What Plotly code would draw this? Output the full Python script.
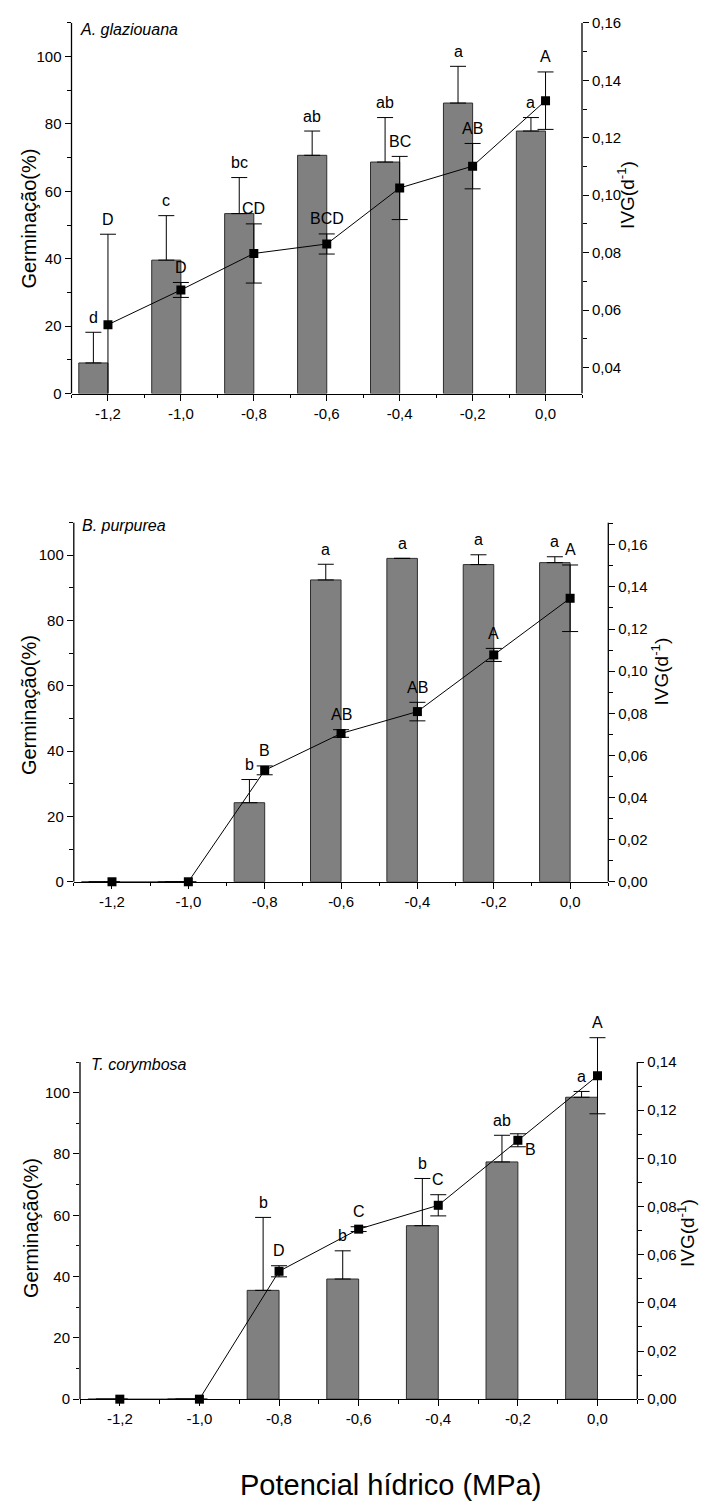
import plotly.graph_objects as go

W, H = 701, 1510

# ---------------- data ----------------
potencial = [-1.2, -1.0, -0.8, -0.6, -0.4, -0.2, 0.0]
x_tickvals = [-1.2, -1.0, -0.8, -0.6, -0.4, -0.2, 0.0]
x_ticklabels = ["-1,2", "-1,0", "-0,8", "-0,6", "-0,4", "-0,2", "0,0"]
germ_tickvals = [0, 20, 40, 60, 80, 100]
germ_ticklabels = ["0", "20", "40", "60", "80", "100"]

# A. glaziouana
germ_a = [9.1, 39.6, 53.4, 70.7, 68.7, 86.2, 77.9]
germ_a_err = [9.1, 13.2, 10.7, 7.2, 13.2, 10.9, 4.0]
ivg_a = [0.0549, 0.0670, 0.0797, 0.0830, 0.1025, 0.1101, 0.1329]
ivg_a_err = [0.0315, 0.0026, 0.0103, 0.0035, 0.0110, 0.0079, 0.0100]
low_a = ["d", "c", "bc", "ab", "ab", "a", "a"]
up_a = ["D", "D", "CD", "BCD", "BC", "AB", "A"]
ivg_a_tickvals = [0.04, 0.06, 0.08, 0.10, 0.12, 0.14, 0.16]
ivg_a_ticklabels = ["0,04", "0,06", "0,08", "0,10", "0,12", "0,14", "0,16"]

# B. purpurea
germ_b = [0, 0, 24.2, 92.4, 99.0, 97.1, 97.7]
germ_b_err = [0, 0, 7.1, 4.8, 0, 3.0, 1.8]
ivg_b = [0, 0, 0.0529, 0.0704, 0.0808, 0.1077, 0.1346]
ivg_b_err = [0, 0, 0.0021, 0.0018, 0.0044, 0.0031, 0.0158]
low_b = ["", "", "b", "a", "a", "a", "a"]
up_b = ["", "", "B", "AB", "AB", "A", "A"]
ivg_b_tickvals = [0.00, 0.02, 0.04, 0.06, 0.08, 0.10, 0.12, 0.14, 0.16]
ivg_b_ticklabels = ["0,00", "0,02", "0,04", "0,06", "0,08", "0,10", "0,12", "0,14", "0,16"]

# T. corymbosa
germ_c = [0, 0, 35.5, 39.2, 56.6, 77.4, 98.5]
germ_c_err = [0, 0, 23.8, 9.2, 15.4, 8.7, 1.9]
ivg_c = [0, 0, 0.0531, 0.0706, 0.0805, 0.1075, 0.1343]
ivg_c_err = [0, 0, 0.0023, 0.0010, 0.0044, 0.0027, 0.0158]
low_c = ["", "", "b", "b", "b", "ab", "a"]
up_c = ["", "", "D", "C", "C", "B", "A"]
ivg_c_tickvals = [0.00, 0.02, 0.04, 0.06, 0.08, 0.10, 0.12, 0.14]
ivg_c_ticklabels = ["0,00", "0,02", "0,04", "0,06", "0,08", "0,10", "0,12", "0,14"]

species = ["A. glaziouana", "B. purpurea", "T. corymbosa"]

# ---------------- layout geometry (pixels) ----------------
# box = (left, right, top of drawn axes, bottom); ext_top = top of plotting area
panels = [
    dict(name=species[0], germ=germ_a, gerr=germ_a_err, ivg=ivg_a, ierr=ivg_a_err,
         low=low_a, up=up_a, rtv=ivg_a_tickvals, rtt=ivg_a_ticklabels,
         box=(71.5, 582, 14, 389), ext_top=14, yl=[0, 110], yr=[0.0309, 0.16],
         rminor=[0.05, 0.07, 0.09, 0.11, 0.13, 0.15], clip=True,
         title_xy=(78, 21), ltitle=(29, 212), rtitle=(626, 188)),
    dict(name=species[1], germ=germ_b, gerr=germ_b_err, ivg=ivg_b, ierr=ivg_b_err,
         low=low_b, up=up_b, rtv=ivg_b_tickvals, rtt=ivg_b_ticklabels,
         box=(73.8, 608.3, 519.3, 882.7), ext_top=519.3, yl=[0, 110], yr=[0, 0.1706],
         rminor=[0.01, 0.03, 0.05, 0.07, 0.09, 0.11, 0.13, 0.15, 0.17], clip=False,
         title_xy=(79.5, 522), ltitle=(29, 704), rtitle=(660, 670)),
    dict(name=species[2], germ=germ_c, gerr=germ_c_err, ivg=ivg_c, ierr=ivg_c_err,
         low=low_c, up=up_c, rtv=ivg_c_tickvals, rtt=ivg_c_ticklabels,
         box=(80, 637.3, 1065, 1406), ext_top=1018, yl=[0, 110], yr=[0, 0.14],
         rminor=[0.01, 0.03, 0.05, 0.07, 0.09, 0.11, 0.13], clip=False,
         title_xy=(89, 1068), ltitle=(31, 1233), rtitle=(686, 1238)),
]
# label placement exceptions: (panel, index) -> (xshift, yshift) relative to point
up_special = {(2, 5): (13, -9)}


def px(x):
    return x / W


def py(y):
    return 1 - y / H


FONT = "Liberation Sans, Arial, sans-serif"
tickfont = dict(family=FONT, size=15, color="black")
labfont = dict(family=FONT, size=16, color="black")
AXW = 1.3

fig = go.Figure()
layout = dict(
    width=W, height=H, margin=dict(l=0, r=0, t=0, b=0),
    paper_bgcolor="white", plot_bgcolor="white", showlegend=False,
    barmode="overlay",
)
annotations = []
shapes = []

axis_common = dict(showgrid=False, zeroline=False, ticks="outside", ticklen=6,
                   tickwidth=1.2, tickcolor="black", tickfont=tickfont,
                   tickmode="array")
minor_common = dict(tickmode="array", ticks="outside", ticklen=3.5, tickwidth=1.2,
                    tickcolor="black")

for i, p in enumerate(panels):
    xa = "x" if i == 0 else f"x{i + 1}"
    yl = "y" if i == 0 else f"y{2 * i + 1}"
    yr = f"y{2 * i + 2}"
    xkey = "xaxis" if i == 0 else f"xaxis{i + 1}"
    ylkey = "yaxis" if i == 0 else f"yaxis{2 * i + 1}"
    yrkey = f"yaxis{2 * i + 2}"
    l, r, t, b = p["box"]
    et = p["ext_top"]
    frac = (b - et) / (b - t)
    yl_rng = [p["yl"][0], p["yl"][0] + (p["yl"][1] - p["yl"][0]) * frac]
    yr_rng = [p["yr"][0], p["yr"][0] + (p["yr"][1] - p["yr"][0]) * frac]

    layout[xkey] = dict(axis_common, showline=True, linecolor="black", linewidth=AXW,
                        domain=[px(l), px(r)], range=[-1.3, 0.1],
                        anchor=yl, tickvals=x_tickvals, ticktext=x_ticklabels,
                        minor=dict(minor_common,
                                   tickvals=[-1.3, -1.1, -0.9, -0.7, -0.5, -0.3, -0.1, 0.1]))
    layout[ylkey] = dict(axis_common, showline=False, domain=[py(b), py(et)],
                         range=yl_rng, anchor=xa, side="left",
                         tickvals=germ_tickvals, ticktext=germ_ticklabels,
                         minor=dict(minor_common, tickvals=[10, 30, 50, 70, 90, 110]))
    layout[yrkey] = dict(axis_common, showline=False, range=yr_rng, anchor=xa,
                         overlaying=yl, side="right", tickvals=p["rtv"], ticktext=p["rtt"],
                         minor=dict(minor_common, tickvals=p["rminor"]))

    # vertical axis lines limited to the drawn axis extent
    shapes.append(dict(type="line", xref="paper", yref=yl, x0=px(l), x1=px(l),
                       y0=p["yl"][0], y1=p["yl"][1],
                       line=dict(color="black", width=AXW)))
    shapes.append(dict(type="line", xref="paper", yref=yr, x0=px(r), x1=px(r),
                       y0=p["yr"][0], y1=p["yr"][1],
                       line=dict(color="black", width=AXW)))

    fig.add_trace(go.Bar(
        x=potencial, y=p["germ"], offset=-0.08, width=0.08,
        marker=dict(color="#808080", line=dict(color="#2e2e2e", width=1)),
        error_y=dict(type="data", array=p["gerr"], arrayminus=[0] * len(p["gerr"]),
                     symmetric=False, color="black", thickness=1, width=8),
        xaxis=xa, yaxis=yl, hoverinfo="skip"))

    fig.add_trace(go.Scatter(
        x=potencial, y=p["ivg"], mode="lines+markers",
        line=dict(color="black", width=1),
        marker=dict(symbol="square", size=9, color="black"),
        error_y=dict(type="data", array=p["ierr"], symmetric=True,
                     color="black", thickness=1, width=8),
        cliponaxis=p["clip"], xaxis=xa, yaxis=yr, hoverinfo="skip"))

    # letters above germination bars
    for j, txt in enumerate(p["low"]):
        if not txt:
            continue
        annotations.append(dict(x=potencial[j] - 0.04, y=p["germ"][j] + p["gerr"][j],
                                xref=xa, yref=yl, text=txt, showarrow=False,
                                font=labfont, xanchor="center", yanchor="middle",
                                yshift=15))
    # letters for IVG points
    for j, txt in enumerate(p["up"]):
        if not txt:
            continue
        if (i, j) in up_special:
            xs, ys = up_special[(i, j)]
            annotations.append(dict(x=potencial[j], y=p["ivg"][j], xref=xa, yref=yr,
                                    text=txt, showarrow=False, font=labfont,
                                    xanchor="center", yanchor="middle",
                                    xshift=xs, yshift=ys))
        else:
            annotations.append(dict(x=potencial[j], y=p["ivg"][j] + p["ierr"][j],
                                    xref=xa, yref=yr, text=txt, showarrow=False,
                                    font=labfont, xanchor="center", yanchor="middle",
                                    yshift=15))

    # species name
    annotations.append(dict(x=px(p["title_xy"][0]), y=py(p["title_xy"][1]),
                            xref="paper", yref="paper", text=f"<i>{p['name']}</i>",
                            showarrow=False, xanchor="left", yanchor="middle",
                            font=dict(family=FONT, size=16, color="black")))
    # axis titles
    annotations.append(dict(x=px(p["ltitle"][0]), y=py(p["ltitle"][1]),
                            xref="paper", yref="paper", text="Germinação(%)",
                            textangle=-90, showarrow=False, xanchor="center",
                            yanchor="middle",
                            font=dict(family=FONT, size=20, color="black")))
    annotations.append(dict(x=px(p["rtitle"][0]), y=py(p["rtitle"][1]),
                            xref="paper", yref="paper", text="IVG(d<sup>-1</sup>)",
                            textangle=-90, showarrow=False, xanchor="center",
                            yanchor="middle",
                            font=dict(family=FONT, size=19, color="black")))

annotations.append(dict(x=px(390), y=py(1493), xref="paper", yref="paper",
                        text="Potencial hídrico (MPa)", showarrow=False,
                        xanchor="center", yanchor="middle",
                        font=dict(family=FONT, size=29, color="black")))

layout["annotations"] = annotations
layout["shapes"] = shapes
fig.update_layout(**layout)
fig.write_html("out.html")
